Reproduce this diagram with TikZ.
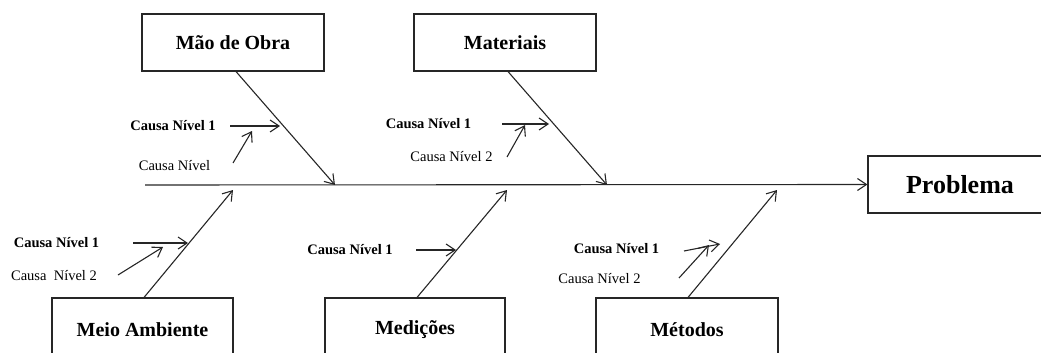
\documentclass[tikz,border=0pt]{standalone}
\usepackage{fontspec}
\setmainfont{Liberation Serif}
\usetikzlibrary{arrows.meta}
\begin{document}
\begin{tikzpicture}[x=1pt,y=-1pt,
  box/.style={draw=black!85, line width=1.1pt, minimum width=182pt, minimum height=57pt, inner sep=0pt,
    font=\fontsize{20}{24}\selectfont\bfseries},
  lone/.style={inner sep=0pt, font=\fontsize{14.5}{17}\selectfont\bfseries},
  ltwo/.style={inner sep=0pt, font=\fontsize{14.5}{17}\selectfont},
  bone/.style={draw=black!85, line width=1.1pt, -{Straight Barb[length=9pt,width=12pt]}},
]
\useasboundingbox (0,0) rectangle (1041,353);
\clip (0,0) rectangle (1041,353);

% category boxes
\node[box] (mdo) at (233,42.5) {Mão de Obra};
\node[box] (mat) at (505,42.5) {Materiais};
\node[box, minimum width=181pt, minimum height=64pt] (ma) at (142.5,330) {Meio Ambiente};
\node[box, minimum width=180pt, minimum height=64pt] (med) at (415,330) {Medições};
\node[box, minimum width=182pt, minimum height=64pt] (met) at (687,330) {Métodos};
\node[box, minimum width=184pt, font=\fontsize{26}{30}\selectfont\bfseries] (prob) at (960,184.5) {Problema};

% spine
\coordinate (sp0) at (145,185);
\draw[bone] (sp0) -- (prob.west);

% bones
\coordinate (j1) at (335,185);
\coordinate (j2) at (607,185);
\coordinate (j3) at (233,190);
\coordinate (j4) at (507,190);
\coordinate (j5) at (777,190);
\draw[bone] ([xshift=3pt]mdo.south) -- (j1);
\draw[bone] ([xshift=3pt]mat.south) -- (j2);
\draw[bone] ([xshift=1.5pt]ma.north) -- (j3);
\draw[bone] ([xshift=2pt]med.north) -- (j4);
\draw[bone] ([xshift=1pt]met.north) -- (j5);

% cause labels
\node[lone] (c1a) at (173,126) {Causa Nível 1};
\node[ltwo] (c2a) at (174.5,166) {Causa Nível};
\node[lone] (c1b) at (428.5,124) {Causa Nível 1};
\node[ltwo] (c2b) at (451.5,157) {Causa Nível 2};
\node[lone] (c1c) at (56.5,243) {Causa Nível 1};
\node[ltwo] (c2c) at (54,276) {Causa~\ Nível 2};
\node[lone] (c1d) at (350,250) {Causa Nível 1};
\node[lone] (c1e) at (616.5,249) {Causa Nível 1};
\node[ltwo] (c2e) at (599.5,279) {Causa Nível 2};

% cause arrows
\coordinate (a1s) at (230,126); \coordinate (a1e) at (280,126);
\coordinate (a2s) at (233,163); \coordinate (a2e) at (252,131);
\coordinate (b1s) at (502,124); \coordinate (b1e) at (549,124);
\coordinate (b2s) at (507,157); \coordinate (b2e) at (525,125);
\coordinate (m1s) at (133,243); \coordinate (m1e) at (188,243);
\coordinate (m2s) at (118,275); \coordinate (m2e) at (163,247);
\coordinate (d1s) at (416,250); \coordinate (d1e) at (456,250);
\coordinate (e1s) at (684,251); \coordinate (e1e) at (720,244);
\coordinate (e2s) at (679,278); \coordinate (e2e) at (709,245);
\draw[bone] (a1s) -- (a1e);
\draw[bone] (a2s) -- (a2e);
\draw[bone] (b1s) -- (b1e);
\draw[bone] (b2s) -- (b2e);
\draw[bone] (m1s) -- (m1e);
\draw[bone] (m2s) -- (m2e);
\draw[bone] (d1s) -- (d1e);
\draw[bone] (e1s) -- (e1e);
\draw[bone] (e2s) -- (e2e);
\end{tikzpicture}
\end{document}
